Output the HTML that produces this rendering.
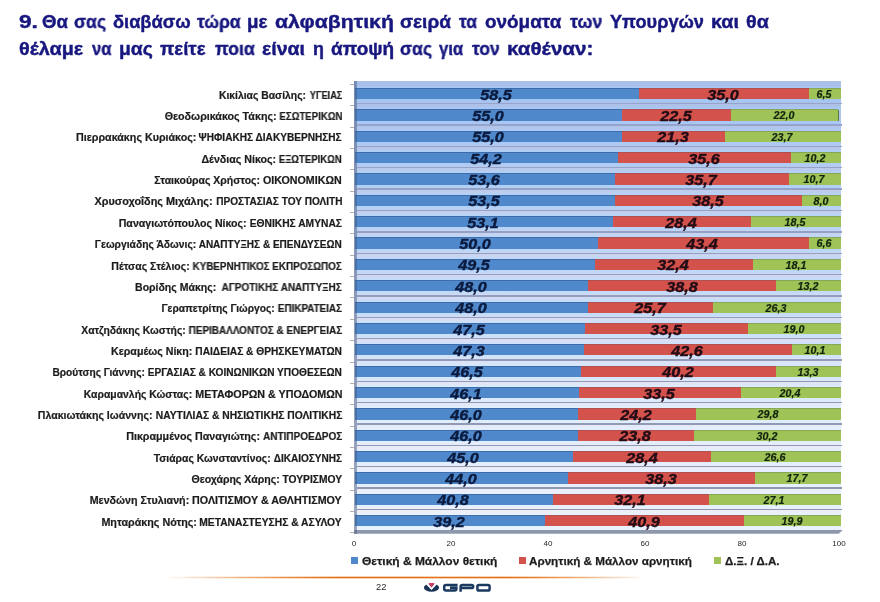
<!DOCTYPE html>
<html><head><meta charset="utf-8"><title>GPO</title>
<style>
html,body{margin:0;padding:0;background:#fff;}
body{width:880px;height:602px;position:relative;overflow:hidden;font-family:"Liberation Sans",sans-serif;}
.t,.lab,.v,.ax,.leg,.pg{will-change:transform;}
.abs{position:absolute;}
.t{position:absolute;font-weight:bold;font-size:18px;line-height:20px;color:#17177f;-webkit-text-stroke:0.4px #17177f;white-space:nowrap;transform-origin:0 50%;}
.lab{position:absolute;right:537.9px;white-space:nowrap;font-weight:bold;font-size:10px;line-height:12px;color:#1c1c1c;-webkit-text-stroke:0.2px #1c1c1c;transform-origin:100% 50%;}
.wall{position:absolute;left:354.3px;top:81.3px;width:486.9px;height:449px;background:linear-gradient(to bottom,rgb(169,191,232) 0%,rgb(212,219,242) 50%,rgb(230,234,247) 75%,rgb(238,240,248) 100%);}
.grid{position:absolute;left:357px;width:485px;height:1.4px;background:rgb(148,160,190);}
.hl{position:absolute;left:357px;width:484.2px;height:3px;background:rgba(255,255,255,0.28);}
.tick{position:absolute;left:350px;width:4px;height:1px;background:#b4b0b0;}
.bar{position:absolute;height:11px;}
.b{background:#4f88cb;}
.r{background:#d4524c;}
.g{background:#a0c358;}
.v{position:absolute;white-space:nowrap;font-weight:bold;font-style:italic;color:#0d1830;}
.v1{-webkit-text-stroke:0.4px currentColor;}
.v3{-webkit-text-stroke:0.2px currentColor;}
.v1{font-size:15.4px;line-height:16px;}
.v3{font-size:10.2px;line-height:12px;}
.ax{position:absolute;top:539.2px;font-size:8px;line-height:9px;color:#262626;}
.leg{position:absolute;top:554.5px;font-weight:bold;font-size:11.5px;line-height:13px;color:#1c1c1c;-webkit-text-stroke:0.25px #1c1c1c;white-space:nowrap;transform-origin:0 50%;}
.sw{position:absolute;top:557.3px;width:7px;height:7px;}
</style></head><body>

<div class="t" style="left:19.45px;top:12.30px;transform:scaleX(1.2576)">9.</div>
<div class="t" style="left:42.28px;top:12.30px;transform:scaleX(1.0331)">Θα</div>
<div class="t" style="left:74.12px;top:12.30px;transform:scaleX(0.9777)">σας</div>
<div class="t" style="left:112.69px;top:12.30px;transform:scaleX(1.0133)">διαβάσω</div>
<div class="t" style="left:196.50px;top:12.30px;transform:scaleX(0.9709)">τώρα</div>
<div class="t" style="left:247.24px;top:12.30px;transform:scaleX(1.0447)">με</div>
<div class="t" style="left:275.07px;top:12.30px;transform:scaleX(1.1786)">αλφαβητική</div>
<div class="t" style="left:399.96px;top:12.30px;transform:scaleX(1.0593)">σειρά</div>
<div class="t" style="left:459.00px;top:12.30px;transform:scaleX(0.9672)">τα</div>
<div class="t" style="left:484.76px;top:12.30px;transform:scaleX(1.0501)">ονόματα</div>
<div class="t" style="left:569.50px;top:12.30px;transform:scaleX(0.9874)">των</div>
<div class="t" style="left:610.20px;top:12.30px;transform:scaleX(1.0087)">Υπουργών</div>
<div class="t" style="left:710.99px;top:12.30px;transform:scaleX(1.0928)">και</div>
<div class="t" style="left:746.02px;top:12.30px;transform:scaleX(1.0960)">θα</div>
<div class="t" style="left:19.32px;top:38.50px;transform:scaleX(1.1033)">θέλαμε</div>
<div class="t" style="left:91.80px;top:38.50px;transform:scaleX(0.9234)">να</div>
<div class="t" style="left:118.80px;top:38.50px;transform:scaleX(1.0780)">μας</div>
<div class="t" style="left:160.29px;top:38.50px;transform:scaleX(1.0370)">πείτε</div>
<div class="t" style="left:214.61px;top:38.50px;transform:scaleX(0.9874)">ποια</div>
<div class="t" style="left:262.44px;top:38.50px;transform:scaleX(1.0862)">είναι</div>
<div class="t" style="left:312.51px;top:38.50px;transform:scaleX(0.9889)">η</div>
<div class="t" style="left:330.66px;top:38.50px;transform:scaleX(1.0551)">άποψή</div>
<div class="t" style="left:400.02px;top:38.50px;transform:scaleX(0.9777)">σας</div>
<div class="t" style="left:439.21px;top:38.50px;transform:scaleX(0.9264)">για</div>
<div class="t" style="left:471.50px;top:38.50px;transform:scaleX(0.9710)">τον</div>
<div class="t" style="left:506.63px;top:38.50px;transform:scaleX(1.1448)">καθέναν:</div>
<div class="wall"></div>
<svg class="abs" style="left:0;top:0" width="880" height="602"><polygon points="354.3,530 842.8,530 838.6,533.7 354.3,533.7" fill="#8d98ad"/></svg>
<div class="tick" style="top:83.92px"></div>
<div class="grid" style="top:103.03px;background:rgb(150,165,206)"></div>
<div class="tick" style="top:105.28px"></div>
<div class="grid" style="top:124.38px;background:rgb(149,164,205)"></div>
<div class="tick" style="top:126.63px"></div>
<div class="grid" style="top:145.74px;background:rgb(149,164,203)"></div>
<div class="tick" style="top:147.99px"></div>
<div class="grid" style="top:167.09px;background:rgb(148,163,201)"></div>
<div class="tick" style="top:169.34px"></div>
<div class="grid" style="top:188.45px;background:rgb(148,162,199)"></div>
<div class="tick" style="top:190.70px"></div>
<div class="grid" style="top:209.80px;background:rgb(148,161,198)"></div>
<div class="tick" style="top:212.05px"></div>
<div class="grid" style="top:231.16px;background:rgb(147,161,196)"></div>
<div class="tick" style="top:233.41px"></div>
<div class="grid" style="top:252.51px;background:rgb(147,160,194)"></div>
<div class="tick" style="top:254.76px"></div>
<div class="grid" style="top:273.87px;background:rgb(147,159,193)"></div>
<div class="tick" style="top:276.12px"></div>
<div class="grid" style="top:295.22px;background:rgb(146,158,191)"></div>
<div class="tick" style="top:297.47px"></div>
<div class="grid" style="top:316.58px;background:rgb(146,158,189)"></div>
<div class="tick" style="top:318.83px"></div>
<div class="grid" style="top:337.93px;background:rgb(145,157,187)"></div>
<div class="tick" style="top:340.18px"></div>
<div class="grid" style="top:359.29px;background:rgb(145,156,186)"></div>
<div class="tick" style="top:361.54px"></div>
<div class="grid" style="top:380.64px;background:rgb(145,155,184)"></div>
<div class="tick" style="top:382.89px"></div>
<div class="grid" style="top:402.00px;background:rgb(144,155,182)"></div>
<div class="tick" style="top:404.25px"></div>
<div class="grid" style="top:423.35px;background:rgb(144,154,181)"></div>
<div class="tick" style="top:425.60px"></div>
<div class="grid" style="top:444.71px;background:rgb(144,153,179)"></div>
<div class="tick" style="top:446.96px"></div>
<div class="grid" style="top:466.06px;background:rgb(143,152,177)"></div>
<div class="tick" style="top:468.31px"></div>
<div class="grid" style="top:487.42px;background:rgb(143,152,175)"></div>
<div class="tick" style="top:489.67px"></div>
<div class="grid" style="top:508.77px;background:rgb(142,151,174)"></div>
<div class="tick" style="top:511.02px"></div>
<div class="tick" style="top:532.38px"></div>
<div class="lab" id="l0a" style="right:573.50px;top:89.70px;transform:scaleX(1.0367)">Κικίλιας Βασίλης:</div>
<div class="lab" id="l0b" style="top:89.70px;transform:scaleX(0.9220)">ΥΓΕΙΑΣ</div>
<div class="abs" style="left:356.8px;top:99.20px;width:484.4px;height:3.00px;background:rgb(165,197,243)"></div>
<div class="abs" style="left:356.8px;top:85.80px;width:484.4px;height:2.40px;background:rgb(165,197,243)"></div>
<div class="bar b" style="left:354.50px;top:88.20px;width:284.37px"></div>
<div class="bar r" style="left:638.87px;top:88.20px;width:170.13px"></div>
<div class="bar g" style="left:809.00px;top:88.20px;width:31.60px"></div>
<div class="abs" style="left:354.50px;top:88.00px;width:284.37px;height:1px;background:#3f6cab"></div>
<div class="abs" style="left:638.87px;top:88.00px;width:170.13px;height:1px;background:#b3504f"></div>
<div class="abs" style="left:809.00px;top:88.00px;width:31.60px;height:1px;background:#8aa655"></div>
<div class="v v1" id="v0_0" style="left:496.08px;top:94.60px;color:#0b1a3c;transform:translate(-50%,-50%) scaleX(1.050)">58,5</div>
<div class="v v1" id="v0_1" style="left:723.34px;top:94.60px;color:#220c16;transform:translate(-50%,-50%) scaleX(1.050)">35,0</div>
<div class="v v3" id="v0_2" style="left:824.20px;top:95.00px;color:#10220c;transform:translate(-50%,-50%) scaleX(1.050)">6,5</div>
<div class="lab" id="l1a" style="right:603.90px;top:111.06px;transform:scaleX(1.0702)">Θεοδωρικάκος Τάκης:</div>
<div class="lab" id="l1b" style="top:111.06px;transform:scaleX(0.9634)">ΕΣΩΤΕΡΙΚΩΝ</div>
<div class="abs" style="left:356.8px;top:120.56px;width:484.4px;height:3.00px;background:rgb(168,199,244)"></div>
<div class="abs" style="left:356.8px;top:107.16px;width:484.4px;height:2.40px;background:rgb(168,199,244)"></div>
<div class="bar b" style="left:354.50px;top:109.56px;width:267.36px"></div>
<div class="bar r" style="left:621.86px;top:109.56px;width:109.37px"></div>
<div class="bar g" style="left:731.23px;top:109.56px;width:106.94px"></div>
<div class="abs" style="left:354.50px;top:109.36px;width:267.36px;height:1px;background:#3f6cab"></div>
<div class="abs" style="left:621.86px;top:109.36px;width:109.37px;height:1px;background:#b3504f"></div>
<div class="abs" style="left:731.23px;top:109.36px;width:106.94px;height:1px;background:#8aa655"></div>
<div class="abs" style="left:837.67px;top:110.06px;width:0.9px;height:10.50px;background:#5f7a4a"></div>
<div class="v v1" id="v1_0" style="left:487.58px;top:115.96px;color:#0b1a3c;transform:translate(-50%,-50%) scaleX(1.050)">55,0</div>
<div class="v v1" id="v1_1" style="left:675.94px;top:115.96px;color:#220c16;transform:translate(-50%,-50%) scaleX(1.050)">22,5</div>
<div class="v v3" id="v1_2" style="left:784.10px;top:116.36px;color:#10220c;transform:translate(-50%,-50%) scaleX(1.050)">22,0</div>
<div class="lab" id="l2a" style="right:684.00px;top:132.41px;transform:scaleX(1.0707)">Πιερρακάκης Κυριάκος:</div>
<div class="lab" id="l2b" style="top:132.41px;transform:scaleX(1.0100)">ΨΗΦΙΑΚΗΣ ΔΙΑΚΥΒΕΡΝΗΣΗΣ</div>
<div class="abs" style="left:356.8px;top:141.91px;width:484.4px;height:3.00px;background:rgb(172,202,244)"></div>
<div class="abs" style="left:356.8px;top:128.51px;width:484.4px;height:2.40px;background:rgb(172,202,244)"></div>
<div class="bar b" style="left:354.50px;top:130.91px;width:267.36px"></div>
<div class="bar r" style="left:621.86px;top:130.91px;width:103.54px"></div>
<div class="bar g" style="left:725.39px;top:130.91px;width:115.21px"></div>
<div class="abs" style="left:354.50px;top:130.71px;width:267.36px;height:1px;background:#3f6cab"></div>
<div class="abs" style="left:621.86px;top:130.71px;width:103.54px;height:1px;background:#b3504f"></div>
<div class="abs" style="left:725.39px;top:130.71px;width:115.21px;height:1px;background:#8aa655"></div>
<div class="v v1" id="v2_0" style="left:487.58px;top:137.31px;color:#0b1a3c;transform:translate(-50%,-50%) scaleX(1.050)">55,0</div>
<div class="v v1" id="v2_1" style="left:673.02px;top:137.31px;color:#220c16;transform:translate(-50%,-50%) scaleX(1.050)">21,3</div>
<div class="v v3" id="v2_2" style="left:782.40px;top:137.71px;color:#10220c;transform:translate(-50%,-50%) scaleX(1.050)">23,7</div>
<div class="lab" id="l3a" style="right:603.90px;top:153.76px;transform:scaleX(1.0652)">Δένδιας Νίκος:</div>
<div class="lab" id="l3b" style="top:153.76px;transform:scaleX(0.9573)">ΕΞΩΤΕΡΙΚΩΝ</div>
<div class="abs" style="left:356.8px;top:163.26px;width:484.4px;height:3.00px;background:rgb(175,204,245)"></div>
<div class="abs" style="left:356.8px;top:149.86px;width:484.4px;height:2.40px;background:rgb(175,204,245)"></div>
<div class="bar b" style="left:354.50px;top:152.26px;width:263.47px"></div>
<div class="bar r" style="left:617.97px;top:152.26px;width:173.05px"></div>
<div class="bar g" style="left:791.02px;top:152.26px;width:49.58px"></div>
<div class="abs" style="left:354.50px;top:152.06px;width:263.47px;height:1px;background:#3f6cab"></div>
<div class="abs" style="left:617.97px;top:152.06px;width:173.05px;height:1px;background:#b3504f"></div>
<div class="abs" style="left:791.02px;top:152.06px;width:49.58px;height:1px;background:#8aa655"></div>
<div class="v v1" id="v3_0" style="left:485.63px;top:158.66px;color:#0b1a3c;transform:translate(-50%,-50%) scaleX(1.050)">54,2</div>
<div class="v v1" id="v3_1" style="left:703.89px;top:158.66px;color:#220c16;transform:translate(-50%,-50%) scaleX(1.050)">35,6</div>
<div class="v v3" id="v3_2" style="left:815.21px;top:159.06px;color:#10220c;transform:translate(-50%,-50%) scaleX(1.050)">10,2</div>
<div class="lab" id="l4a" style="right:619.60px;top:175.12px;transform:scaleX(1.0479)">Σταικούρας Χρήστος:</div>
<div class="lab" id="l4b" style="top:175.12px;transform:scaleX(1.0683)">ΟΙΚΟΝΟΜΙΚΩΝ</div>
<div class="abs" style="left:356.8px;top:184.62px;width:484.4px;height:3.00px;background:rgb(178,207,246)"></div>
<div class="abs" style="left:356.8px;top:171.22px;width:484.4px;height:2.40px;background:rgb(178,207,246)"></div>
<div class="bar b" style="left:354.50px;top:173.62px;width:260.55px"></div>
<div class="bar r" style="left:615.05px;top:173.62px;width:173.54px"></div>
<div class="bar g" style="left:788.59px;top:173.62px;width:52.01px"></div>
<div class="abs" style="left:354.50px;top:173.42px;width:260.55px;height:1px;background:#3f6cab"></div>
<div class="abs" style="left:615.05px;top:173.42px;width:173.54px;height:1px;background:#b3504f"></div>
<div class="abs" style="left:788.59px;top:173.42px;width:52.01px;height:1px;background:#8aa655"></div>
<div class="v v1" id="v4_0" style="left:484.17px;top:180.02px;color:#0b1a3c;transform:translate(-50%,-50%) scaleX(1.050)">53,6</div>
<div class="v v1" id="v4_1" style="left:701.22px;top:180.02px;color:#220c16;transform:translate(-50%,-50%) scaleX(1.050)">35,7</div>
<div class="v v3" id="v4_2" style="left:813.99px;top:180.42px;color:#10220c;transform:translate(-50%,-50%) scaleX(1.050)">10,7</div>
<div class="lab" id="l5a" style="right:667.10px;top:196.48px;transform:scaleX(1.0869)">Χρυσοχοΐδης Μιχάλης:</div>
<div class="lab" id="l5b" style="top:196.48px;transform:scaleX(1.0061)">ΠΡΟΣΤΑΣΙΑΣ ΤΟΥ ΠΟΛΙΤΗ</div>
<div class="abs" style="left:356.8px;top:205.98px;width:484.4px;height:3.00px;background:rgb(182,209,246)"></div>
<div class="abs" style="left:356.8px;top:192.58px;width:484.4px;height:2.40px;background:rgb(182,209,246)"></div>
<div class="bar b" style="left:354.50px;top:194.98px;width:260.06px"></div>
<div class="bar r" style="left:614.56px;top:194.98px;width:187.15px"></div>
<div class="bar g" style="left:801.71px;top:194.98px;width:38.89px"></div>
<div class="abs" style="left:354.50px;top:194.78px;width:260.06px;height:1px;background:#3f6cab"></div>
<div class="abs" style="left:614.56px;top:194.78px;width:187.15px;height:1px;background:#b3504f"></div>
<div class="abs" style="left:801.71px;top:194.78px;width:38.89px;height:1px;background:#8aa655"></div>
<div class="v v1" id="v5_0" style="left:483.93px;top:201.38px;color:#0b1a3c;transform:translate(-50%,-50%) scaleX(1.050)">53,5</div>
<div class="v v1" id="v5_1" style="left:707.54px;top:201.38px;color:#220c16;transform:translate(-50%,-50%) scaleX(1.050)">38,5</div>
<div class="v v3" id="v5_2" style="left:820.56px;top:201.78px;color:#10220c;transform:translate(-50%,-50%) scaleX(1.050)">8,0</div>
<div class="lab" id="l6a" style="right:633.20px;top:217.83px;transform:scaleX(1.0604)">Παναγιωτόπουλος Νίκος:</div>
<div class="lab" id="l6b" style="top:217.83px;transform:scaleX(1.0259)">ΕΘΝΙΚΗΣ ΑΜΥΝΑΣ</div>
<div class="abs" style="left:356.8px;top:227.33px;width:484.4px;height:3.00px;background:rgb(185,211,247)"></div>
<div class="abs" style="left:356.8px;top:213.93px;width:484.4px;height:2.40px;background:rgb(185,211,247)"></div>
<div class="bar b" style="left:354.50px;top:216.33px;width:258.12px"></div>
<div class="bar r" style="left:612.62px;top:216.33px;width:138.05px"></div>
<div class="bar g" style="left:750.67px;top:216.33px;width:89.93px"></div>
<div class="abs" style="left:354.50px;top:216.13px;width:258.12px;height:1px;background:#3f6cab"></div>
<div class="abs" style="left:612.62px;top:216.13px;width:138.05px;height:1px;background:#b3504f"></div>
<div class="abs" style="left:750.67px;top:216.13px;width:89.93px;height:1px;background:#8aa655"></div>
<div class="v v1" id="v6_0" style="left:482.96px;top:222.73px;color:#0b1a3c;transform:translate(-50%,-50%) scaleX(1.050)">53,1</div>
<div class="v v1" id="v6_1" style="left:681.05px;top:222.73px;color:#220c16;transform:translate(-50%,-50%) scaleX(1.050)">28,4</div>
<div class="v v3" id="v6_2" style="left:795.04px;top:223.13px;color:#10220c;transform:translate(-50%,-50%) scaleX(1.050)">18,5</div>
<div class="lab" id="l7a" style="right:684.00px;top:239.19px;transform:scaleX(1.0329)">Γεωργιάδης Άδωνις:</div>
<div class="lab" id="l7b" style="top:239.19px;transform:scaleX(1.0025)">ΑΝΑΠΤΥΞΗΣ &amp; ΕΠΕΝΔΥΣΕΩΝ</div>
<div class="abs" style="left:356.8px;top:248.69px;width:484.4px;height:3.00px;background:rgb(188,214,248)"></div>
<div class="abs" style="left:356.8px;top:235.28px;width:484.4px;height:2.40px;background:rgb(188,214,248)"></div>
<div class="bar b" style="left:354.50px;top:237.69px;width:243.05px"></div>
<div class="bar r" style="left:597.55px;top:237.69px;width:210.97px"></div>
<div class="bar g" style="left:808.52px;top:237.69px;width:32.08px"></div>
<div class="abs" style="left:354.50px;top:237.49px;width:243.05px;height:1px;background:#3f6cab"></div>
<div class="abs" style="left:597.55px;top:237.49px;width:210.97px;height:1px;background:#b3504f"></div>
<div class="abs" style="left:808.52px;top:237.49px;width:32.08px;height:1px;background:#8aa655"></div>
<div class="v v1" id="v7_0" style="left:475.43px;top:244.09px;color:#0b1a3c;transform:translate(-50%,-50%) scaleX(1.050)">50,0</div>
<div class="v v1" id="v7_1" style="left:702.43px;top:244.09px;color:#220c16;transform:translate(-50%,-50%) scaleX(1.050)">43,4</div>
<div class="v v3" id="v7_2" style="left:823.96px;top:244.49px;color:#10220c;transform:translate(-50%,-50%) scaleX(1.050)">6,6</div>
<div class="lab" id="l8a" style="right:690.00px;top:260.54px;transform:scaleX(1.0486)">Πέτσας Στέλιος:</div>
<div class="lab" id="l8b" style="top:260.54px;transform:scaleX(0.9829)">ΚΥΒΕΡΝΗΤΙΚΟΣ ΕΚΠΡΟΣΩΠΟΣ</div>
<div class="abs" style="left:356.8px;top:270.04px;width:484.4px;height:3.00px;background:rgb(191,216,249)"></div>
<div class="abs" style="left:356.8px;top:256.64px;width:484.4px;height:2.40px;background:rgb(191,216,249)"></div>
<div class="bar b" style="left:354.50px;top:259.04px;width:240.62px"></div>
<div class="bar r" style="left:595.12px;top:259.04px;width:157.50px"></div>
<div class="bar g" style="left:752.62px;top:259.04px;width:87.98px"></div>
<div class="abs" style="left:354.50px;top:258.84px;width:240.62px;height:1px;background:#3f6cab"></div>
<div class="abs" style="left:595.12px;top:258.84px;width:157.50px;height:1px;background:#b3504f"></div>
<div class="abs" style="left:752.62px;top:258.84px;width:87.98px;height:1px;background:#8aa655"></div>
<div class="v v1" id="v8_0" style="left:474.21px;top:265.44px;color:#0b1a3c;transform:translate(-50%,-50%) scaleX(1.050)">49,5</div>
<div class="v v1" id="v8_1" style="left:673.27px;top:265.44px;color:#220c16;transform:translate(-50%,-50%) scaleX(1.050)">32,4</div>
<div class="v v3" id="v8_2" style="left:796.01px;top:265.84px;color:#10220c;transform:translate(-50%,-50%) scaleX(1.050)">18,1</div>
<div class="lab" id="l9a" style="right:663.50px;top:281.89px;transform:scaleX(1.0513)">Βορίδης Μάκης:</div>
<div class="lab" id="l9b" style="top:281.89px;transform:scaleX(0.9954)">ΑΓΡΟΤΙΚΗΣ ΑΝΑΠΤΥΞΗΣ</div>
<div class="abs" style="left:356.8px;top:291.39px;width:484.4px;height:3.00px;background:rgb(195,219,249)"></div>
<div class="abs" style="left:356.8px;top:278.00px;width:484.4px;height:2.40px;background:rgb(195,219,249)"></div>
<div class="bar b" style="left:354.50px;top:280.39px;width:233.33px"></div>
<div class="bar r" style="left:587.83px;top:280.39px;width:188.61px"></div>
<div class="bar g" style="left:776.43px;top:280.39px;width:64.17px"></div>
<div class="abs" style="left:354.50px;top:280.19px;width:233.33px;height:1px;background:#3f6cab"></div>
<div class="abs" style="left:587.83px;top:280.19px;width:188.61px;height:1px;background:#b3504f"></div>
<div class="abs" style="left:776.43px;top:280.19px;width:64.17px;height:1px;background:#8aa655"></div>
<div class="v v1" id="v9_0" style="left:470.56px;top:286.79px;color:#0b1a3c;transform:translate(-50%,-50%) scaleX(1.050)">48,0</div>
<div class="v v1" id="v9_1" style="left:681.53px;top:286.79px;color:#220c16;transform:translate(-50%,-50%) scaleX(1.050)">38,8</div>
<div class="v v3" id="v9_2" style="left:807.92px;top:287.19px;color:#10220c;transform:translate(-50%,-50%) scaleX(1.050)">13,2</div>
<div class="lab" id="l10a" style="right:605.10px;top:303.25px;transform:scaleX(1.0236)">Γεραπετρίτης Γιώργος:</div>
<div class="lab" id="l10b" style="top:303.25px;transform:scaleX(0.9877)">ΕΠΙΚΡΑΤΕΙΑΣ</div>
<div class="abs" style="left:356.8px;top:312.75px;width:484.4px;height:3.00px;background:rgb(198,221,250)"></div>
<div class="abs" style="left:356.8px;top:299.35px;width:484.4px;height:2.40px;background:rgb(198,221,250)"></div>
<div class="bar b" style="left:354.50px;top:301.75px;width:233.33px"></div>
<div class="bar r" style="left:587.83px;top:301.75px;width:124.93px"></div>
<div class="bar g" style="left:712.76px;top:301.75px;width:127.84px"></div>
<div class="abs" style="left:354.50px;top:301.55px;width:233.33px;height:1px;background:#3f6cab"></div>
<div class="abs" style="left:587.83px;top:301.55px;width:124.93px;height:1px;background:#b3504f"></div>
<div class="abs" style="left:712.76px;top:301.55px;width:127.84px;height:1px;background:#8aa655"></div>
<div class="v v1" id="v10_0" style="left:470.56px;top:308.15px;color:#0b1a3c;transform:translate(-50%,-50%) scaleX(1.050)">48,0</div>
<div class="v v1" id="v10_1" style="left:649.69px;top:308.15px;color:#220c16;transform:translate(-50%,-50%) scaleX(1.050)">25,7</div>
<div class="v v3" id="v10_2" style="left:776.08px;top:308.55px;color:#10220c;transform:translate(-50%,-50%) scaleX(1.050)">26,3</div>
<div class="lab" id="l11a" style="right:694.60px;top:324.61px;transform:scaleX(1.0364)">Χατζηδάκης Κωστής:</div>
<div class="lab" id="l11b" style="top:324.61px;transform:scaleX(0.9963)">ΠΕΡΙΒΑΛΛΟΝΤΟΣ &amp; ΕΝΕΡΓΕΙΑΣ</div>
<div class="abs" style="left:356.8px;top:334.11px;width:484.4px;height:3.00px;background:rgb(203,224,251)"></div>
<div class="abs" style="left:356.8px;top:320.71px;width:484.4px;height:2.40px;background:rgb(203,224,251)"></div>
<div class="bar b" style="left:354.50px;top:323.11px;width:230.90px"></div>
<div class="bar r" style="left:585.40px;top:323.11px;width:162.84px"></div>
<div class="bar g" style="left:748.24px;top:323.11px;width:92.36px"></div>
<div class="abs" style="left:354.50px;top:322.91px;width:230.90px;height:1px;background:#3f6cab"></div>
<div class="abs" style="left:585.40px;top:322.91px;width:162.84px;height:1px;background:#b3504f"></div>
<div class="abs" style="left:748.24px;top:322.91px;width:92.36px;height:1px;background:#8aa655"></div>
<div class="v v1" id="v11_0" style="left:469.35px;top:329.50px;color:#0b1a3c;transform:translate(-50%,-50%) scaleX(1.050)">47,5</div>
<div class="v v1" id="v11_1" style="left:666.22px;top:329.50px;color:#220c16;transform:translate(-50%,-50%) scaleX(1.050)">33,5</div>
<div class="v v3" id="v11_2" style="left:793.82px;top:329.91px;color:#10220c;transform:translate(-50%,-50%) scaleX(1.050)">19,0</div>
<div class="lab" id="l12a" style="right:687.60px;top:345.96px;transform:scaleX(1.0658)">Κεραμέως Νίκη:</div>
<div class="lab" id="l12b" style="top:345.96px;transform:scaleX(1.0189)">ΠΑΙΔΕΙΑΣ &amp; ΘΡΗΣΚΕΥΜΑΤΩΝ</div>
<div class="abs" style="left:356.8px;top:355.46px;width:484.4px;height:3.00px;background:rgb(208,227,251)"></div>
<div class="abs" style="left:356.8px;top:342.06px;width:484.4px;height:2.40px;background:rgb(208,227,251)"></div>
<div class="bar b" style="left:354.50px;top:344.46px;width:229.93px"></div>
<div class="bar r" style="left:584.43px;top:344.46px;width:207.08px"></div>
<div class="bar g" style="left:791.50px;top:344.46px;width:49.10px"></div>
<div class="abs" style="left:354.50px;top:344.26px;width:229.93px;height:1px;background:#3f6cab"></div>
<div class="abs" style="left:584.43px;top:344.26px;width:207.08px;height:1px;background:#b3504f"></div>
<div class="abs" style="left:791.50px;top:344.26px;width:49.10px;height:1px;background:#8aa655"></div>
<div class="v v1" id="v12_0" style="left:468.86px;top:350.86px;color:#0b1a3c;transform:translate(-50%,-50%) scaleX(1.050)">47,3</div>
<div class="v v1" id="v12_1" style="left:687.36px;top:350.86px;color:#220c16;transform:translate(-50%,-50%) scaleX(1.050)">42,6</div>
<div class="v v3" id="v12_2" style="left:815.45px;top:351.26px;color:#10220c;transform:translate(-50%,-50%) scaleX(1.050)">10,1</div>
<div class="lab" id="l13a" style="right:735.10px;top:367.31px;transform:scaleX(1.0173)">Βρούτσης Γιάννης:</div>
<div class="lab" id="l13b" style="top:367.31px;transform:scaleX(1.0119)">ΕΡΓΑΣΙΑΣ &amp; ΚΟΙΝΩΝΙΚΩΝ ΥΠΟΘΕΣΕΩΝ</div>
<div class="abs" style="left:356.8px;top:376.81px;width:484.4px;height:3.00px;background:rgb(214,231,252)"></div>
<div class="abs" style="left:356.8px;top:363.42px;width:484.4px;height:2.40px;background:rgb(214,231,252)"></div>
<div class="bar b" style="left:354.50px;top:365.81px;width:226.04px"></div>
<div class="bar r" style="left:580.54px;top:365.81px;width:195.41px"></div>
<div class="bar g" style="left:775.95px;top:365.81px;width:64.65px"></div>
<div class="abs" style="left:354.50px;top:365.62px;width:226.04px;height:1px;background:#3f6cab"></div>
<div class="abs" style="left:580.54px;top:365.62px;width:195.41px;height:1px;background:#b3504f"></div>
<div class="abs" style="left:775.95px;top:365.62px;width:64.65px;height:1px;background:#8aa655"></div>
<div class="v v1" id="v13_0" style="left:466.92px;top:372.21px;color:#0b1a3c;transform:translate(-50%,-50%) scaleX(1.050)">46,5</div>
<div class="v v1" id="v13_1" style="left:677.64px;top:372.21px;color:#220c16;transform:translate(-50%,-50%) scaleX(1.050)">40,2</div>
<div class="v v3" id="v13_2" style="left:807.67px;top:372.62px;color:#10220c;transform:translate(-50%,-50%) scaleX(1.050)">13,3</div>
<div class="lab" id="l14a" style="right:688.10px;top:388.67px;transform:scaleX(1.0404)">Καραμανλής Κώστας:</div>
<div class="lab" id="l14b" style="top:388.67px;transform:scaleX(1.0707)">ΜΕΤΑΦΟΡΩΝ &amp; ΥΠΟΔΟΜΩΝ</div>
<div class="abs" style="left:356.8px;top:398.17px;width:484.4px;height:3.00px;background:rgb(219,234,252)"></div>
<div class="abs" style="left:356.8px;top:384.77px;width:484.4px;height:2.40px;background:rgb(219,234,252)"></div>
<div class="bar b" style="left:354.50px;top:387.17px;width:224.09px"></div>
<div class="bar r" style="left:578.59px;top:387.17px;width:162.84px"></div>
<div class="bar g" style="left:741.44px;top:387.17px;width:99.16px"></div>
<div class="abs" style="left:354.50px;top:386.97px;width:224.09px;height:1px;background:#3f6cab"></div>
<div class="abs" style="left:578.59px;top:386.97px;width:162.84px;height:1px;background:#b3504f"></div>
<div class="abs" style="left:741.44px;top:386.97px;width:99.16px;height:1px;background:#8aa655"></div>
<div class="v v1" id="v14_0" style="left:465.95px;top:393.57px;color:#0b1a3c;transform:translate(-50%,-50%) scaleX(1.050)">46,1</div>
<div class="v v1" id="v14_1" style="left:659.41px;top:393.57px;color:#220c16;transform:translate(-50%,-50%) scaleX(1.050)">33,5</div>
<div class="v v3" id="v14_2" style="left:790.42px;top:393.97px;color:#10220c;transform:translate(-50%,-50%) scaleX(1.050)">20,4</div>
<div class="lab" id="l15a" style="right:727.50px;top:410.02px;transform:scaleX(1.0574)">Πλακιωτάκης Ιωάννης:</div>
<div class="lab" id="l15b" style="top:410.02px;transform:scaleX(1.0286)">ΝΑΥΤΙΛΙΑΣ &amp; ΝΗΣΙΩΤΙΚΗΣ ΠΟΛΙΤΙΚΗΣ</div>
<div class="abs" style="left:356.8px;top:419.52px;width:484.4px;height:3.00px;background:rgb(224,237,253)"></div>
<div class="abs" style="left:356.8px;top:406.12px;width:484.4px;height:2.40px;background:rgb(224,237,253)"></div>
<div class="bar b" style="left:354.50px;top:408.52px;width:223.61px"></div>
<div class="bar r" style="left:578.11px;top:408.52px;width:117.64px"></div>
<div class="bar g" style="left:695.74px;top:408.52px;width:144.86px"></div>
<div class="abs" style="left:354.50px;top:408.32px;width:223.61px;height:1px;background:#3f6cab"></div>
<div class="abs" style="left:578.11px;top:408.32px;width:117.64px;height:1px;background:#b3504f"></div>
<div class="abs" style="left:695.74px;top:408.32px;width:144.86px;height:1px;background:#8aa655"></div>
<div class="v v1" id="v15_0" style="left:465.70px;top:414.92px;color:#0b1a3c;transform:translate(-50%,-50%) scaleX(1.050)">46,0</div>
<div class="v v1" id="v15_1" style="left:636.32px;top:414.92px;color:#220c16;transform:translate(-50%,-50%) scaleX(1.050)">24,2</div>
<div class="v v3" id="v15_2" style="left:767.57px;top:415.32px;color:#10220c;transform:translate(-50%,-50%) scaleX(1.050)">29,8</div>
<div class="lab" id="l16a" style="right:620.10px;top:431.38px;transform:scaleX(1.0704)">Πικραμμένος Παναγιώτης:</div>
<div class="lab" id="l16b" style="top:431.38px;transform:scaleX(0.9986)">ΑΝΤΙΠΡΟΕΔΡΟΣ</div>
<div class="abs" style="left:356.8px;top:440.88px;width:484.4px;height:3.00px;background:rgb(226,238,253)"></div>
<div class="abs" style="left:356.8px;top:427.48px;width:484.4px;height:2.40px;background:rgb(226,238,253)"></div>
<div class="bar b" style="left:354.50px;top:429.88px;width:223.61px"></div>
<div class="bar r" style="left:578.11px;top:429.88px;width:115.69px"></div>
<div class="bar g" style="left:693.80px;top:429.88px;width:146.80px"></div>
<div class="abs" style="left:354.50px;top:429.68px;width:223.61px;height:1px;background:#3f6cab"></div>
<div class="abs" style="left:578.11px;top:429.68px;width:115.69px;height:1px;background:#b3504f"></div>
<div class="abs" style="left:693.80px;top:429.68px;width:146.80px;height:1px;background:#8aa655"></div>
<div class="v v1" id="v16_0" style="left:465.70px;top:436.28px;color:#0b1a3c;transform:translate(-50%,-50%) scaleX(1.050)">46,0</div>
<div class="v v1" id="v16_1" style="left:635.35px;top:436.28px;color:#220c16;transform:translate(-50%,-50%) scaleX(1.050)">23,8</div>
<div class="v v3" id="v16_2" style="left:766.60px;top:436.68px;color:#10220c;transform:translate(-50%,-50%) scaleX(1.050)">30,2</div>
<div class="lab" id="l17a" style="right:609.30px;top:452.74px;transform:scaleX(1.0388)">Τσιάρας Κωνσταντίνος:</div>
<div class="lab" id="l17b" style="top:452.74px;transform:scaleX(1.0045)">ΔΙΚΑΙΟΣΥΝΗΣ</div>
<div class="abs" style="left:356.8px;top:462.24px;width:484.4px;height:3.00px;background:rgb(227,239,254)"></div>
<div class="abs" style="left:356.8px;top:448.84px;width:484.4px;height:2.40px;background:rgb(227,239,254)"></div>
<div class="bar b" style="left:354.50px;top:451.24px;width:218.75px"></div>
<div class="bar r" style="left:573.25px;top:451.24px;width:138.05px"></div>
<div class="bar g" style="left:711.30px;top:451.24px;width:129.30px"></div>
<div class="abs" style="left:354.50px;top:451.04px;width:218.75px;height:1px;background:#3f6cab"></div>
<div class="abs" style="left:573.25px;top:451.04px;width:138.05px;height:1px;background:#b3504f"></div>
<div class="abs" style="left:711.30px;top:451.04px;width:129.30px;height:1px;background:#8aa655"></div>
<div class="v v1" id="v17_0" style="left:463.27px;top:457.63px;color:#0b1a3c;transform:translate(-50%,-50%) scaleX(1.050)">45,0</div>
<div class="v v1" id="v17_1" style="left:641.67px;top:457.63px;color:#220c16;transform:translate(-50%,-50%) scaleX(1.050)">28,4</div>
<div class="v v3" id="v17_2" style="left:775.35px;top:458.04px;color:#10220c;transform:translate(-50%,-50%) scaleX(1.050)">26,6</div>
<div class="lab" id="l18a" style="right:600.50px;top:474.09px;transform:scaleX(1.0545)">Θεοχάρης Χάρης:</div>
<div class="lab" id="l18b" style="top:474.09px;transform:scaleX(1.0268)">ΤΟΥΡΙΣΜΟΥ</div>
<div class="abs" style="left:356.8px;top:483.59px;width:484.4px;height:3.00px;background:rgb(229,239,254)"></div>
<div class="abs" style="left:356.8px;top:470.19px;width:484.4px;height:2.40px;background:rgb(229,239,254)"></div>
<div class="bar b" style="left:354.50px;top:472.59px;width:213.88px"></div>
<div class="bar r" style="left:568.38px;top:472.59px;width:186.18px"></div>
<div class="bar g" style="left:754.56px;top:472.59px;width:86.04px"></div>
<div class="abs" style="left:354.50px;top:472.39px;width:213.88px;height:1px;background:#3f6cab"></div>
<div class="abs" style="left:568.38px;top:472.39px;width:186.18px;height:1px;background:#b3504f"></div>
<div class="abs" style="left:754.56px;top:472.39px;width:86.04px;height:1px;background:#8aa655"></div>
<div class="v v1" id="v18_0" style="left:460.84px;top:478.99px;color:#0b1a3c;transform:translate(-50%,-50%) scaleX(1.050)">44,0</div>
<div class="v v1" id="v18_1" style="left:660.87px;top:478.99px;color:#220c16;transform:translate(-50%,-50%) scaleX(1.050)">38,3</div>
<div class="v v3" id="v18_2" style="left:796.98px;top:479.39px;color:#10220c;transform:translate(-50%,-50%) scaleX(1.050)">17,7</div>
<div class="lab" id="l19a" style="right:690.50px;top:495.44px;transform:scaleX(1.0676)">Μενδώνη Στυλιανή:</div>
<div class="lab" id="l19b" style="top:495.44px;transform:scaleX(1.0707)">ΠΟΛΙΤΙΣΜΟΥ &amp; ΑΘΛΗΤΙΣΜΟΥ</div>
<div class="abs" style="left:356.8px;top:504.94px;width:484.4px;height:3.00px;background:rgb(230,240,255)"></div>
<div class="abs" style="left:356.8px;top:491.55px;width:484.4px;height:2.40px;background:rgb(230,240,255)"></div>
<div class="bar b" style="left:354.50px;top:493.94px;width:198.33px"></div>
<div class="bar r" style="left:552.83px;top:493.94px;width:156.04px"></div>
<div class="bar g" style="left:708.87px;top:493.94px;width:131.73px"></div>
<div class="abs" style="left:354.50px;top:493.75px;width:198.33px;height:1px;background:#3f6cab"></div>
<div class="abs" style="left:552.83px;top:493.75px;width:156.04px;height:1px;background:#b3504f"></div>
<div class="abs" style="left:708.87px;top:493.75px;width:131.73px;height:1px;background:#8aa655"></div>
<div class="v v1" id="v19_0" style="left:453.06px;top:500.34px;color:#0b1a3c;transform:translate(-50%,-50%) scaleX(1.050)">40,8</div>
<div class="v v1" id="v19_1" style="left:630.25px;top:500.34px;color:#220c16;transform:translate(-50%,-50%) scaleX(1.050)">32,1</div>
<div class="v v3" id="v19_2" style="left:774.13px;top:500.75px;color:#10220c;transform:translate(-50%,-50%) scaleX(1.050)">27,1</div>
<div class="lab" id="l20a" style="right:683.30px;top:516.80px;transform:scaleX(1.0740)">Μηταράκης Νότης:</div>
<div class="lab" id="l20b" style="top:516.80px;transform:scaleX(1.0269)">ΜΕΤΑΝΑΣΤΕΥΣΗΣ &amp; ΑΣΥΛΟΥ</div>
<div class="abs" style="left:356.8px;top:526.30px;width:484.4px;height:3.00px;background:rgb(232,241,255)"></div>
<div class="abs" style="left:356.8px;top:512.90px;width:484.4px;height:2.40px;background:rgb(232,241,255)"></div>
<div class="bar b" style="left:354.50px;top:515.30px;width:190.55px"></div>
<div class="bar r" style="left:545.05px;top:515.30px;width:198.81px"></div>
<div class="bar g" style="left:743.87px;top:515.30px;width:96.73px"></div>
<div class="abs" style="left:354.50px;top:515.10px;width:190.55px;height:1px;background:#3f6cab"></div>
<div class="abs" style="left:545.05px;top:515.10px;width:198.81px;height:1px;background:#b3504f"></div>
<div class="abs" style="left:743.87px;top:515.10px;width:96.73px;height:1px;background:#8aa655"></div>
<div class="v v1" id="v20_0" style="left:449.18px;top:521.70px;color:#0b1a3c;transform:translate(-50%,-50%) scaleX(1.050)">39,2</div>
<div class="v v1" id="v20_1" style="left:643.86px;top:521.70px;color:#220c16;transform:translate(-50%,-50%) scaleX(1.050)">40,9</div>
<div class="v v3" id="v20_2" style="left:791.63px;top:522.10px;color:#10220c;transform:translate(-50%,-50%) scaleX(1.050)">19,9</div>
<div class="abs" style="left:354.2px;top:81.3px;width:2.4px;height:452.4px;background:rgba(70,90,130,0.5);"></div>
<div class="ax" style="left:354.30px;transform:translateX(-50%)">0</div>
<div class="ax" style="left:451.20px;transform:translateX(-50%)">20</div>
<div class="ax" style="left:548.10px;transform:translateX(-50%)">40</div>
<div class="ax" style="left:645.00px;transform:translateX(-50%)">60</div>
<div class="ax" style="left:741.90px;transform:translateX(-50%)">80</div>
<div class="ax" style="left:838.80px;transform:translateX(-50%)">100</div>
<div class="sw" style="left:351.2px;background:#4f88cb"></div><div class="leg" id="g1" style="left:362.1px;transform:scaleX(1.0398)">Θετική &amp; Μάλλον θετική</div>
<div class="sw" style="left:518.9px;background:#d4524c"></div><div class="leg" id="g2" style="left:529.2px;transform:scaleX(1.0137)">Αρνητική &amp; Μάλλον αρνητική</div>
<div class="sw" style="left:713.8px;background:#a0c358"></div><div class="leg" id="g3" style="left:725px;transform:scaleX(1.0058)">Δ.Ξ. / Δ.Α.</div>
<div class="abs" style="left:165px;top:575.9px;width:480px;height:2.8px;background:linear-gradient(to right,rgba(232,128,40,0) 0%,rgba(232,128,40,0.35) 35%,rgba(232,128,40,0.35) 72%,rgba(232,128,40,0) 100%);"></div>
<div class="abs" style="left:165px;top:576.6px;width:480px;height:1.4px;background:linear-gradient(to right,rgba(226,112,24,0) 0%,rgba(226,112,24,1) 35%,rgba(226,112,24,1) 72%,rgba(226,112,24,0) 100%);"></div>
<div class="abs pg" style="left:375.7px;top:581.8px;font-size:9.4px;line-height:10px;color:#262626;">22</div>
<svg class="abs" style="left:420px;top:580px" width="76" height="16" viewBox="420 580 76 16">
<ellipse cx="431.5" cy="587.7" rx="7.6" ry="4" fill="#1b3556"/>
<path d="M426.2 584.6 L428.2 583.2 L431.5 587.4 L434.8 583.2 L436.8 584.6 L431.5 590.1 Z" fill="#fff"/>
<path d="M428.3 582.9 L434.7 582.9 L431.5 587.3 Z" fill="#d63a66"/>
<g fill="none" stroke="#1b3a60" stroke-width="2.5">
<path d="M457.6 584.9 H446 Q444.2 584.9 444.2 586.6 V588.8 Q444.2 590.5 446 590.5 H454.6 Q456.4 590.5 456.4 588.8 V587.8 H450"/>
<path d="M460.6 591.7 V586.6 Q460.6 584.9 462.4 584.9 H471.4 Q473.2 584.9 473.2 586.4 Q473.2 588 471.4 588 H460.6"/>
<rect x="477.4" y="584.9" width="12.2" height="5.6" rx="1.6"/>
</g></svg>
</body></html>
